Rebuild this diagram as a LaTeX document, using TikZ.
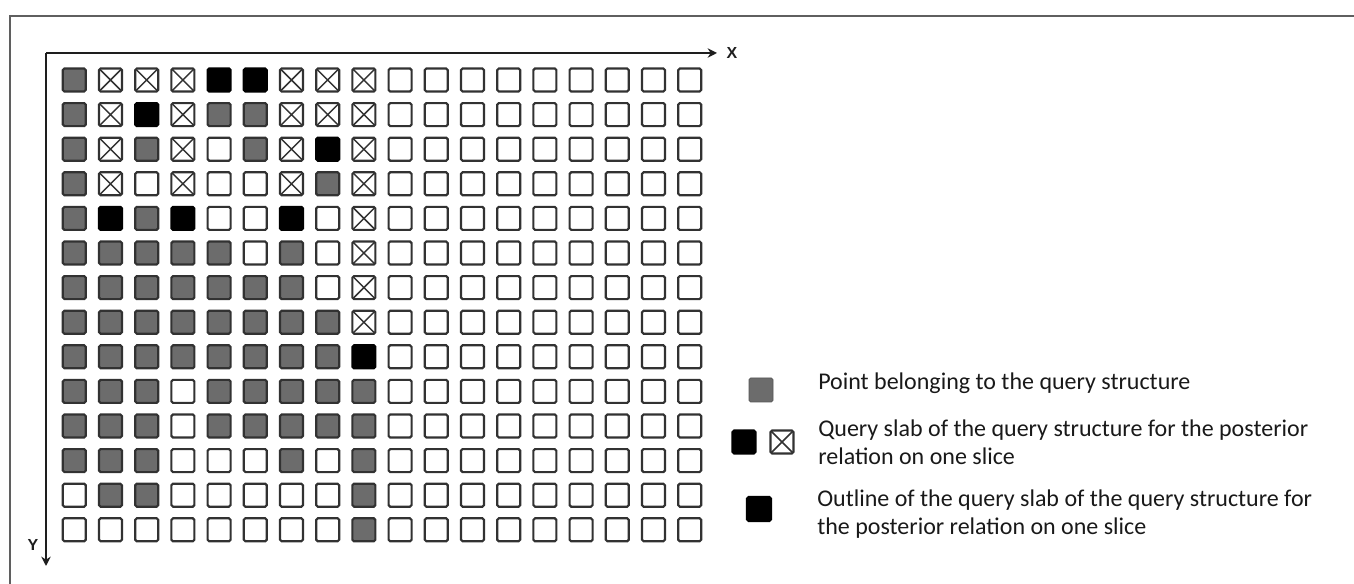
\documentclass[tikz,border=0pt]{standalone}
\usepackage{fontspec}
\setmainfont{Carlito}
\newfontfamily\axisfont{Liberation Sans}
\usetikzlibrary{arrows.meta}
\definecolor{cellgray}{RGB}{108,108,108}
\definecolor{celledge}{RGB}{50,50,50}
\definecolor{axisgray}{RGB}{30,30,30}
\definecolor{framegray}{RGB}{95,95,95}
\definecolor{textgray}{RGB}{25,25,25}
\tikzset{
  cellbase/.style={rectangle, draw=celledge, line width=1.6pt, rounded corners=1.2pt,
    minimum width=17.25pt, minimum height=17.25pt, inner sep=0pt, outer sep=0pt},
  cellW/.style={cellbase, fill=white},
  cellG/.style={cellbase, fill=cellgray},
  cellB/.style={cellbase, fill=black, draw=black},
  cellX/.style={cellbase, fill=white, path picture={
      \draw[celledge, line width=1.1pt]
        (path picture bounding box.north west) -- (path picture bounding box.south east)
        (path picture bounding box.north east) -- (path picture bounding box.south west);}},
  axisline/.style={draw=axisgray, line width=1.6pt, -{Stealth[length=7pt,width=7pt]}},
  axislabel/.style={font=\axisfont\bfseries\fontsize{12}{14}\selectfont, text=axisgray, inner sep=0pt},
  legtext/.style={font=\fontsize{18}{21}\selectfont, text=textgray, inner sep=0pt, anchor=base west},
  framestyle/.style={draw=framegray, line width=1.5pt}
}
\begin{document}
\begin{tikzpicture}[x=0.75pt, y=-0.75pt]
\useasboundingbox (0,0) rectangle (1354,584);
% outer frame
\draw[framestyle] (10,590) -- (10,16) -- (1360,16);
% axes
\coordinate (origin) at (46,53);
\coordinate (xend) at (717,53);
\coordinate (yend) at (46,566);
\draw[axisline] (origin) -- (xend);
\draw[axisline] (origin) -- (yend);
\node[axislabel] (xlab) at (732,53) {X};
\node[axislabel] (ylab) at (33,545) {Y};
% grid of cells
\foreach \rowlist [count=\r] in {
  {G,X,X,X,B,B,X,X,X},
  {G,X,B,X,G,G,X,X,X},
  {G,X,G,X,W,G,X,B,X},
  {G,X,W,X,W,W,X,G,X},
  {G,B,G,B,W,W,B,W,X},
  {G,G,G,G,G,W,G,W,X},
  {G,G,G,G,G,G,G,W,X},
  {G,G,G,G,G,G,G,G,X},
  {G,G,G,G,G,G,G,G,B},
  {G,G,G,W,G,G,G,G,G},
  {G,G,G,W,G,G,G,G,G},
  {G,G,G,W,W,W,G,W,G},
  {W,G,G,W,W,W,W,W,G},
  {W,W,W,W,W,W,W,W,G}}{
  \foreach \t [count=\c] in \rowlist {
    \node[style/.expanded=cell\t] (n-\r-\c) at ({74.3+36.2*(\c-1)},{80+34.6*(\r-1)}) {};
  }
  \foreach \c in {10,...,18} {
    \node[cellW] (n-\r-\c) at ({74.3+36.2*(\c-1)},{80+34.6*(\r-1)}) {};
  }
}
% legend
\node[cellG, minimum width=18pt, minimum height=18pt, draw=cellgray!80!black, line width=0.6pt] (lg1) at (761,390) {};
\node[legtext] (lt1) at (818,390) {Point belonging to the query structure};
\node[cellB] (lg2a) at (744,442) {};
\node[cellX] (lg2b) at (782,442) {};
\node[legtext] (lt2a) at (818,437) {Query slab of the query structure for the posterior};
\node[legtext] (lt2b) at (818,465) {relation on one slice};
\node[cellB, minimum width=18pt, minimum height=18pt] (lg3) at (759,509) {};
\node[legtext] (lt3a) at (817,507) {Outline of the query slab of the query structure for};
\node[legtext] (lt3b) at (817,535) {the posterior relation on one slice};
\end{tikzpicture}
\end{document}
